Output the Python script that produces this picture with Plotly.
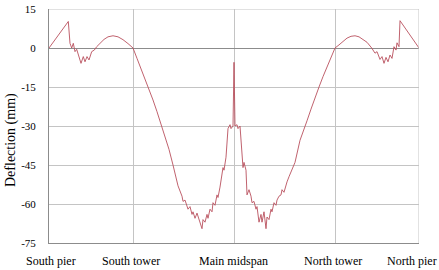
import plotly.graph_objects as go

# Station positions (arbitrary length units along the bridge) and tick labels
tick_positions = [0, 84, 185, 286, 370]
tick_labels = ["South pier", "South tower", "Main midspan", "North tower", "North pier"]

# Deflection profile (mm)
station = [
    0, 19.3, 21, 22.7, 24.3, 26, 27.7, 30, 32, 34.3, 36, 38, 40, 42.7, 45.3, 47.7,
    51, 55, 59, 64, 69, 74, 79, 84,
    88, 92, 96, 100, 104, 108, 112, 116, 120, 124, 129, 133, 134,
    136, 139, 141, 143, 144, 146, 148, 150, 153, 154, 156, 158, 159, 161, 163, 164,
    166, 168, 169, 171, 173, 174, 175, 177, 179, 181, 182, 184, 185, 186, 188, 189,
    191, 193, 194, 195, 197, 198, 200, 202, 203, 205, 207, 208, 210, 212, 213, 215,
    217, 218, 220, 222, 223, 225, 227, 228, 230, 232, 233, 235, 237, 238, 240, 243,
    246, 251, 254, 258, 262, 266, 270, 274, 278, 282, 286,
    290, 294, 298, 302, 306, 310, 314, 318, 322.7,
    326, 328, 331, 333, 335, 337, 339, 341, 343, 345, 347, 348, 350, 351, 370,
]
deflection = [
    0, 10.2, 1.8, 0, 1.8, -1.4, -0.5, -3.3, -5.9, -3.3, -5.3, -3.3, -4.6, -1.4, -0.8, 0.5,
    1.8, 3.3, 4.3, 4.7, 4.3, 3.2, 1.7, 0,
    -4, -8, -12, -15.5, -20, -24.5, -29.5, -34, -39, -45, -53, -57, -59,
    -58.5, -62, -61, -64, -63, -65.5, -63.5, -66, -69.5, -66, -67, -64, -65.5, -62, -63, -59.5,
    -60.5, -56.5, -57.5, -53.5, -48, -46, -47, -42, -31, -29.5, -31, -30, -5.5, -30, -29.5, -31,
    -30, -42, -46, -44, -47, -56.5, -54.5, -57, -59.5, -59, -62, -61, -67, -64, -67, -63,
    -69.5, -65, -66, -62, -63, -59.5, -60.5, -58.5, -57, -56.5, -54.5, -55.5, -52.5, -51.5, -49.5, -47,
    -44, -35.5, -32.5, -28, -23.5, -19, -15, -11, -7.5, -3.8, 0,
    1.2, 2.6, 3.8, 4.5, 4.7, 4.3, 3.4, 2.2, 0,
    -2, -1.4, -4.4, -3.3, -5.9, -3.6, -5.3, -2.7, -4, 0.5, -0.8, 2, 0.5, 10.5, 0,
]

y_ticks = [15, 0, -15, -30, -45, -60, -75]

FONT = "Liberation Serif, Tinos, DejaVu Serif, serif"

# label centre offsets in pixels relative to their tick (the last one is pulled in to fit)
label_shift_px = [2, -2, -1, -2, -7]

fig = go.Figure()
fig.add_trace(go.Scatter(
    x=station, y=deflection, mode="lines",
    line=dict(color="#b9505e", width=0.9),
    showlegend=False, hoverinfo="skip",
))

plot_w = 439 - 49 - 20
plot_h = 270 - 9 - 27

annotations = [dict(
    text="Deflection (mm)", textangle=-90, showarrow=False,
    xref="paper", yref="paper",
    x=(11 - 49) / plot_w, y=(270 - 27 - 140) / plot_h,
    xanchor="center", yanchor="middle", font=dict(size=14, family=FONT),
)]
for pos, lab, sh in zip(tick_positions, tick_labels, label_shift_px):
    annotations.append(dict(
        text=lab, showarrow=False, xref="x", yref="paper", x=pos, y=0,
        xanchor="center", yanchor="middle", xshift=sh, yshift=-18,
        font=dict(size=12, family=FONT, color="black"),
    ))

fig.update_layout(
    width=439, height=270,
    margin=dict(l=49, r=20, t=9, b=27, autoexpand=False),
    paper_bgcolor="white", plot_bgcolor="white",
    font=dict(family=FONT, size=12, color="black"),
    xaxis=dict(
        range=[0, 370], tickmode="array", tickvals=tick_positions, ticktext=tick_labels,
        showticklabels=False,
        showgrid=True, gridcolor="#c4c4c4", gridwidth=1,
        showline=True, linecolor="#8c8c8c", linewidth=1, mirror=False,
        ticks="", zeroline=False, automargin=False,
    ),
    yaxis=dict(
        range=[-75, 15], tickmode="array", tickvals=y_ticks,
        ticktext=[str(v) for v in y_ticks],
        showgrid=True, gridcolor="#c4c4c4", gridwidth=1,
        showline=True, linecolor="#8c8c8c", linewidth=1,
        zeroline=True, zerolinecolor="#8c8c8c", zerolinewidth=1,
        ticks="outside", ticklen=10, tickcolor="rgba(0,0,0,0)",
        tickfont=dict(size=11, family=FONT), automargin=False,
    ),
    annotations=annotations,
)

# right border line (north pier grid) and top grid line
fig.add_shape(type="line", xref="x", yref="paper", x0=370, x1=370, y0=0, y1=1,
              line=dict(color="#c4c4c4", width=1))
fig.add_shape(type="line", xref="paper", yref="y", x0=0, x1=1, y0=15, y1=15,
              line=dict(color="#c4c4c4", width=1))

fig.write_html("out.html")
